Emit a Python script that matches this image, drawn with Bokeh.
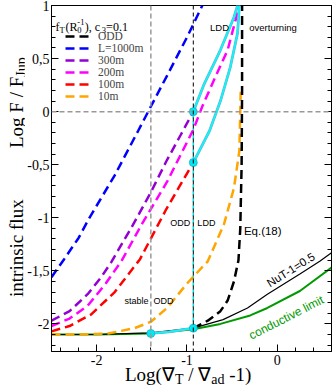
import math
from bokeh.plotting import figure
from bokeh.models import (Range1d, FixedTicker, LinearAxis, Label, Legend, LegendItem,
                          Span, CustomJSTickFormatter, Div)
from bokeh.layouts import row, column
from bokeh.embed import file_html
from bokeh.resources import INLINE

# ---------------- data ----------------
x_1000 = [-2.5, -2.36, -2.2, -2.08, -1.8, -1.54, -1.43, -1.22, -1.0, -0.83]
y_1000 = [-1.56, -1.39, -1.19, -1.0, -0.60, -0.18, 0.0, 0.34, 0.70, 1.0]

x_300 = [-2.5, -2.3, -2.1, -1.95, -1.84, -1.6, -1.4, -1.23, -1.07, -0.93]
y_300 = [-1.97, -1.88, -1.72, -1.56, -1.42, -1.07, -0.76, -0.47, -0.22, 0.0]

x_200 = [-2.5, -2.3, -2.1, -1.9, -1.72, -1.5, -1.22, -0.93, -0.83, -0.70, -0.55, -0.42]
y_200 = [-2.02, -1.95, -1.83, -1.62, -1.40, -1.06, -0.66, -0.17, 0.05, 0.30, 0.58, 1.0]

x_100 = [-2.5, -2.3, -2.06, -1.8, -1.52, -1.23, -0.93]
y_100 = [-2.07, -2.02, -1.91, -1.70, -1.39, -0.92, -0.48]

x_10 = [-2.5, -2.2, -1.87, -1.58, -1.4, -1.22, -1.0, -0.77, -0.59, -0.48, -0.42, -0.405]
y_10 = [-2.1, -2.1, -2.09, -2.04, -1.98, -1.85, -1.62, -1.41, -1.06, -0.72, -0.37, 0.2]

x_odd = [-0.93, -0.77, -0.63, -0.55, -0.48, -0.43, -0.41, -0.395, -0.39, -0.39]
y_odd = [-2.04, -1.97, -1.88, -1.78, -1.6, -1.4, -1.1, -0.5, 0.2, 1.0]

x_nut = [-2.5, -2.0, -1.4, -0.93, -0.6, -0.33, -0.11, 0.25, 0.47, 0.6]
y_nut = [-2.1, -2.1, -2.085, -2.04, -1.96, -1.85, -1.72, -1.53, -1.41, -1.33]

x_cond = [-2.5, -2.0, -1.4, -0.93, -0.63, -0.3, -0.11, 0.25, 0.6]
y_cond = [-2.1, -2.1, -2.09, -2.05, -2.0, -1.92, -1.85, -1.69, -1.47]

x_ldd_up = [-0.93, -0.81, -0.63, -0.48, -0.44]
y_ldd_up = [0.0, 0.26, 0.58, 0.89, 1.0]
x_ldd_lo = [-0.93, -0.75, -0.63, -0.52, -0.44, -0.42]
y_ldd_lo = [-0.48, -0.18, 0.10, 0.42, 0.74, 1.0]
x_stab = [-1.40, -1.2, -0.93]
y_stab = [-2.09, -2.075, -2.04]

x_dots = [-1.40, -0.93, -0.93, -0.93]
y_dots = [-2.09, -2.04, 0.0, -0.48]

x_bound_stable = -1.40
x_bound_ldd = -0.93

legend_labels = ["ODD", "L=1000m", "300m", "200m", "100m", "10m"]
y_ticks = [-2, -1.5, -1, -0.5, 0, 0.5, 1]
x_ticks = [-2, -1, 0]

# ---------------- layout sizes ----------------
XMIN, XMAX, YMIN, YMAX = -2.5, 0.6, -2.26, 1.0
TOTAL_W, TOTAL_H = 332, 388
YW = 24          # width of the y-label strip
XH = 20          # height of the x-label strip
W, H = TOTAL_W - YW, TOTAL_H - XH
ML, MR, MT, MB = 25, 1, 5, 17
SX = (W - ML - MR) / (XMAX - XMIN)
SY = (H - MT - MB) / (YMAX - YMIN)

p = figure(width=W, height=H, output_backend="svg", toolbar_location=None,
           x_range=Range1d(XMIN, XMAX), y_range=Range1d(YMIN, YMAX),
           min_border_left=ML, min_border_right=MR, min_border_top=MT, min_border_bottom=MB)
p.xgrid.visible = False
p.ygrid.visible = False
p.outline_line_color = "black"
p.outline_line_width = 1

comma = CustomJSTickFormatter(code="return tick.toString().replace('.', ',');")
blank = CustomJSTickFormatter(code="return '';")

SERIF = "Liberation Serif"
SANS = "Liberation Sans"

def style_axis(ax, ticks, minor, fmt):
    ax.ticker = FixedTicker(ticks=ticks, minor_ticks=minor)
    ax.formatter = fmt
    ax.major_tick_in = 7
    ax.major_tick_out = 0
    ax.minor_tick_in = 4
    ax.minor_tick_out = 0
    ax.axis_line_color = "black"
    ax.major_tick_line_color = "black"
    ax.minor_tick_line_color = "black"
    ax.major_label_text_font = SERIF
    ax.major_label_text_font_size = "14px"
    ax.major_label_text_color = "black"

y_minor = [round(-2.2 + 0.1 * i, 2) for i in range(33)]
x_minor = [round(-2.4 + 0.2 * i, 2) for i in range(16)]

style_axis(p.yaxis[0], y_ticks, y_minor, comma)
p.yaxis[0].major_label_standoff = 2
style_axis(p.xaxis[0], x_ticks, x_minor, comma)
p.xaxis[0].major_label_standoff = 3

right = LinearAxis()
style_axis(right, y_ticks, y_minor, blank)
right.major_label_standoff = 0
p.add_layout(right, "right")

# reference lines
p.add_layout(Span(location=0, dimension="width", line_color="#999999",
                  line_dash="5 3", line_width=1.5))
p.add_layout(Span(location=x_bound_stable, dimension="height", line_color="#999999",
                  line_dash="5 3", line_width=1.5))
p.add_layout(Span(location=x_bound_ldd, dimension="height", line_color="black",
                  line_dash="4 3", line_width=1))

DASH = "9 5"
EDGE = "#6aaed3"
CYAN = "#10f6f6"
p.line(x_cond, y_cond, line_color="#009a00", line_width=2)
p.line(x_nut, y_nut, line_color="black", line_width=1.2)
p.line([x_dots[1], x_dots[2]], [y_dots[1], y_dots[2]], line_color="#00e0e0",
       line_width=1.5, line_dash="4 3")
p.line(x_stab, y_stab, line_color=EDGE, line_width=2.8)
p.line(x_stab, y_stab, line_color=CYAN, line_width=1.8)

r_1000 = p.line(x_1000, y_1000, line_color="#0000ff", line_width=2.5, line_dash=DASH)
r_300 = p.line(x_300, y_300, line_color="#9400d3", line_width=2.5, line_dash=DASH)
r_200 = p.line(x_200, y_200, line_color="#ff00ff", line_width=2.5, line_dash=DASH)
r_100 = p.line(x_100, y_100, line_color="#ff0000", line_width=2.5, line_dash=DASH)
r_10 = p.line(x_10, y_10, line_color="#ffa500", line_width=2.5, line_dash=DASH)
r_odd = p.line(x_odd, y_odd, line_color="black", line_width=2.5, line_dash=DASH)

for xs, ys in ((x_ldd_up, y_ldd_up), (x_ldd_lo, y_ldd_lo)):
    p.line(xs, ys, line_color=EDGE, line_width=2.8)
    p.line(xs, ys, line_color=CYAN, line_width=1.8)

p.scatter(x_dots, y_dots, size=8, fill_color="#00e8f0", line_color="#20b0d0", line_width=0.8)

# legend
legend = Legend(items=[LegendItem(label=lab, renderers=[r]) for lab, r in
                       zip(legend_labels, [r_odd, r_1000, r_300, r_200, r_100, r_10])],
                location="top_left", margin=0, padding=14, title=" ",
                title_text_font=SERIF, title_text_font_size="9px", title_standoff=1,
                label_text_font=SERIF, label_text_font_size="11.5px",
                glyph_width=24, glyph_height=12, label_height=12, spacing=0,
                label_standoff=9, background_fill_alpha=0, border_line_alpha=0)
p.add_layout(legend)

# helpers: pixel offsets from frame top-left -> data coordinates
def fx(px):
    return XMIN + px / SX

def fy_top(px):
    return YMAX - px / SY

def lab(text, x, y, size, font=SERIF, color="black", align="left", baseline="alphabetic", angle=0.0):
    p.add_layout(Label(x=x, y=y, text=text, text_font=font, text_font_size=size,
                       text_color=color, text_align=align, text_baseline=baseline,
                       angle=angle))

# legend title f_T(R_0^-1), c_3=0.1
tb = fy_top(21)
tx = 4
lab("f", fx(tx), tb, "12px"); tx += 4
lab("T", fx(tx), tb - 3 / SY, "8.5px"); tx += 6
lab("(R", fx(tx), tb, "12px"); tx += 12
lab("0", fx(tx), tb - 3 / SY, "8.5px")
lab("-1", fx(tx), tb + 5 / SY, "8.5px"); tx += 7.5
lab("), c", fx(tx), tb, "12px"); tx += 17
lab("3", fx(tx), tb - 3 / SY, "8.5px"); tx += 4.5
lab("=0.1", fx(tx), tb, "12px")

# in-plot annotations
lab("LDD", -0.64, 0.79, "9.5px", SANS, align="center")
lab("overturning", -0.31, 0.79, "9.5px", SANS)
lab("Eq.(18)", -0.37, -1.12, "11.5px", SANS)
lab("ODD", -0.965, -1.05, "9px", SANS, align="right")
lab("LDD", -0.885, -1.05, "9px", SANS)
lab("stable", -1.425, -1.78, "9px", SANS, align="right")
lab("ODD", -1.37, -1.78, "9px", SANS)
lab("NuT-1=0.5", 0.15, -1.49, "11.5px", SANS, align="center", angle=math.radians(32))
lab("conductive limit", 0.10, -1.94, "12px", SANS, color="#009a00", align="center",
    angle=math.radians(27))

# axis titles (HTML so that subscripts are real text)
FONT = "font-family:'Liberation Serif',serif;font-size:19px;line-height:21px;color:black;"
SUB = "<sub style='font-size:14px;vertical-align:-3px;line-height:0'>{}</sub>"
ylab_html = (
    f"<div style=\"position:relative;width:{YW}px;height:{TOTAL_H}px;{FONT}\">"
    "<span style='position:absolute;left:0;top:0;white-space:nowrap;transform-origin:0 0;"
    "transform:translate(6px,297px) rotate(-90deg);'>intrinsic flux</span>"
    "<span style='position:absolute;left:0;top:0;white-space:nowrap;transform-origin:0 0;"
    "transform:translate(6px,148px) rotate(-90deg);'>Log F / F" + SUB.format("Jup") + "</span>"
    "</div>"
)
xlab_html = (
    f"<div style=\"position:relative;width:{W}px;height:{XH}px;{FONT}\">"
    "<span style='position:absolute;left:101px;top:-4px;white-space:nowrap;'>"
    "Log(\u2207" + SUB.format("T") + " / \u2207" + SUB.format("ad") + " -1)</span>"
    "</div>"
)
ydiv = Div(text=ylab_html, width=YW, height=TOTAL_H, margin=0)
xdiv = Div(text=xlab_html, width=W, height=XH, margin=0)

layout = row(ydiv, column(p, xdiv, spacing=0), spacing=0)

open("out.html", "w").write(file_html(layout, INLINE))
